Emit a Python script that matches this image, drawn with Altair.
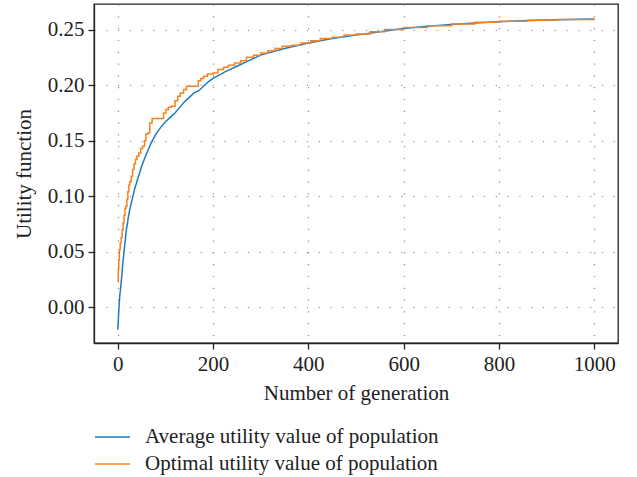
import altair as alt
import pandas as pd

# Average utility value of population (smooth curve)
avg_gen = [0, 2, 4, 6, 8, 10, 13, 16, 18, 20, 22, 25, 30, 35, 40, 50, 60, 70, 80, 90,
           100, 110, 120, 130, 140, 150, 160, 170, 180, 190, 200, 225, 250, 275, 300,
           350, 400, 450, 500, 550, 600, 650, 700, 750, 800, 850, 900, 950, 1000]
avg_val = [-0.020, -0.003, 0.010, 0.018, 0.027, 0.037, 0.050, 0.062, 0.070, 0.075, 0.081,
           0.088, 0.097, 0.106, 0.113, 0.127, 0.138, 0.148, 0.156, 0.162,
           0.167, 0.171, 0.175, 0.180, 0.185, 0.189, 0.193, 0.195, 0.199, 0.203,
           0.206, 0.212, 0.217, 0.222, 0.227, 0.233, 0.238, 0.242, 0.245, 0.248,
           0.251, 0.253, 0.2545, 0.256, 0.257, 0.258, 0.2585, 0.259, 0.2596]

# Optimal utility value of population (step curve)
opt_gen = [0, 1, 2, 3, 5, 7, 9, 11, 13, 15, 17, 19, 21, 23, 25, 28, 31, 34, 37, 40, 44,
           48, 52, 56, 59, 63, 67, 72, 96, 101, 106, 112, 120, 126, 131, 138, 144, 169,
           174, 180, 188, 200, 210, 222, 232, 245, 258, 270, 285, 300, 315, 330, 345,
           365, 385, 405, 425, 450, 475, 500, 530, 560, 600, 650, 700, 750, 800, 860,
           920, 1000]
opt_val = [0.023, 0.035, 0.043, 0.052, 0.058, 0.063, 0.070, 0.076, 0.083, 0.089, 0.091,
           0.097, 0.104, 0.110, 0.113, 0.118, 0.124, 0.129, 0.133, 0.136, 0.139,
           0.143, 0.145, 0.150, 0.156, 0.157, 0.166, 0.170, 0.175, 0.178, 0.180,
           0.181, 0.186, 0.190, 0.193, 0.196, 0.199, 0.204, 0.206, 0.208, 0.210,
           0.211, 0.214, 0.216, 0.218, 0.220, 0.222, 0.225, 0.227, 0.229, 0.231,
           0.233, 0.235, 0.236, 0.238, 0.240, 0.242, 0.243, 0.245, 0.246, 0.248,
           0.250, 0.2518, 0.2535, 0.255, 0.2565, 0.2575, 0.2583, 0.259, 0.2596]

series_names = ["Average utility value of population", "Optimal utility value of population"]
series_colors = ["#1f7bbf", "#f7811f"]
x_ticks = [0, 200, 400, 600, 800, 1000]
y_ticks = [0.00, 0.05, 0.10, 0.15, 0.20, 0.25]

df_avg = pd.DataFrame({"gen": avg_gen, "val": avg_val, "series": series_names[0]})
df_opt = pd.DataFrame({"gen": opt_gen, "val": opt_val, "series": series_names[1]})

FONT = "Liberation Serif"
FS = 21

x_enc = alt.X("gen:Q", scale=alt.Scale(domain=[-50, 1050], nice=False, zero=False),
              axis=alt.Axis(values=x_ticks, title="Number of generation", format="d"))
y_enc = alt.Y("val:Q", scale=alt.Scale(domain=[-0.032, 0.273], nice=False, zero=False),
              axis=alt.Axis(values=y_ticks, title="Utility function", format=".2f"))
color_enc = alt.Color("series:N",
                      scale=alt.Scale(domain=series_names, range=series_colors),
                      legend=alt.Legend(title=None, orient="none", legendX=0, legendY=423,
                                        symbolType="stroke", symbolSize=1225,
                                        symbolStrokeWidth=1.5, labelOffset=14,
                                        clipHeight=20, rowPadding=6, padding=0,
                                        labelFont=FONT, labelFontSize=FS,
                                        labelColor="#222", labelLimit=0))

avg_line = alt.Chart(df_avg).mark_line(strokeWidth=1.5).encode(x=x_enc, y=y_enc, color=color_enc)
opt_line = alt.Chart(df_opt).mark_line(strokeWidth=1.5, interpolate="step-after").encode(
    x=x_enc, y=y_enc, color=color_enc)

chart = alt.layer(avg_line, opt_line).properties(
    width=524, height=339,
    autosize=alt.AutoSizeParams(type="none"),
    padding={"left": 94, "top": 4, "right": 19, "bottom": 134},
).configure_view(
    stroke="#222", strokeWidth=1.3
).configure_axis(
    labelFont=FONT, labelFontSize=FS, labelColor="#222",
    titleFont=FONT, titleFontSize=FS, titleFontWeight="normal", titleColor="#222",
    domainColor="#222", domainWidth=1.3,
    tickColor="#222", tickSize=6, tickWidth=1.3,
    grid=True, gridColor="#888", gridDash=[1.2, 10.6], gridWidth=1.2,
    labelPadding=4,
).configure_axisX(
    titlePadding=8
).configure_axisY(
    titlePadding=13
)

chart.save("out.html", embed_options={"renderer": "svg", "actions": False})
